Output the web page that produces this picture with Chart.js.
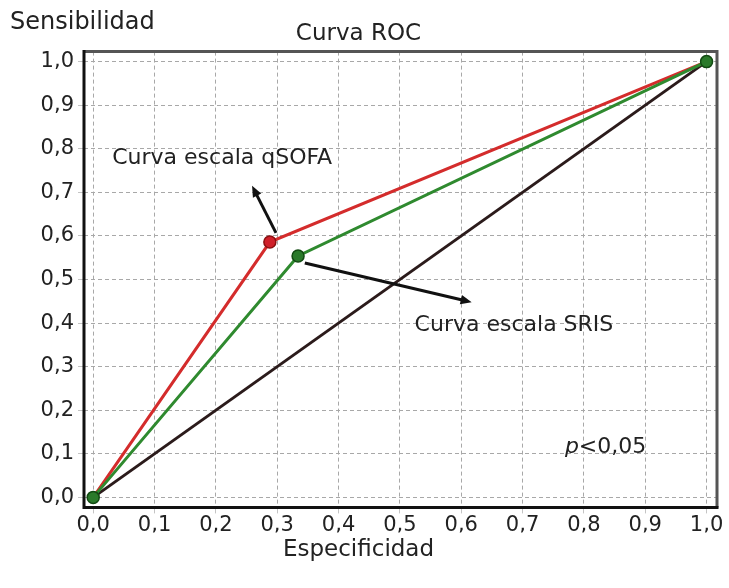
<!DOCTYPE html>
<html>
<head>
<meta charset="utf-8">
<script src="https://cdn.jsdelivr.net/npm/chart.js@4"></script>
<style>
  html, body { margin: 0; padding: 0; background: #fff; }
  #wrap { width: 729px; height: 588px; }
</style>
</head>
<body>
<div id="wrap"><canvas id="roc" width="729" height="588"></canvas></div>
<script>
// ROC data (especificidad, sensibilidad)
const qsofaX = [0.0, 0.288, 1.0];
const qsofaY = [0.0, 0.586, 1.0];
const srisX = [0.0, 0.334, 1.0];
const srisY = [0.0, 0.554, 1.0];
const refX = [0.0, 1.0];
const refY = [0.0, 1.0];

// tick values on both axes
const tickValues = [0.0, 0.1, 0.2, 0.3, 0.4, 0.5, 0.6, 0.7, 0.8, 0.9, 1.0];

// labels and arrows placed in data units
const notes = [
  { text: 'Curva escala qSOFA', x: 0.031, y: 0.779 },
  { text: 'Curva escala SRIS', x: 0.524, y: 0.395 }
];
const arrows = [
  { from: [0.298, 0.607], to: [0.259, 0.715] },
  { from: [0.345, 0.538], to: [0.617, 0.448] }
];
const pNote = { x: 0.769, y: 0.115 };

const FONT = 'DejaVu Sans';
const TEXT = '#222';

function toPoints(xs, ys) {
  return xs.map((x, i) => ({ x: x, y: ys[i] }));
}

function fmt(v) {
  return v.toFixed(1).replace('.', ',');
}

const extras = {
  id: 'extras',
  afterDraw(chart) {
    const c = chart.ctx;
    const a = chart.chartArea;
    const xs = chart.scales.x;
    const ys = chart.scales.y;
    c.save();
    // frame: top/right grey, left/bottom black
    c.lineWidth = 3;
    c.strokeStyle = '#555';
    c.beginPath();
    c.moveTo(a.left, a.top);
    c.lineTo(a.right, a.top);
    c.lineTo(a.right, a.bottom);
    c.stroke();
    c.strokeStyle = '#111';
    c.beginPath();
    c.moveTo(a.left, a.top - 1.5);
    c.lineTo(a.left, a.bottom);
    c.lineTo(a.right + 1.5, a.bottom);
    c.stroke();

    // axis label at top left
    c.fillStyle = TEXT;
    c.font = '24px "' + FONT + '"';
    c.textBaseline = 'middle';
    c.textAlign = 'left';
    c.fillText('Sensibilidad', 10, 23);

    // annotations
    c.font = '22px "' + FONT + '"';
    notes.forEach(n => {
      c.fillText(n.text, xs.getPixelForValue(n.x), ys.getPixelForValue(n.y));
    });
    const px = xs.getPixelForValue(pNote.x);
    const py = ys.getPixelForValue(pNote.y);
    c.font = 'italic 22px "' + FONT + '"';
    c.fillText('p', px, py);
    const pw = c.measureText('p').width;
    c.font = '22px "' + FONT + '"';
    c.fillText('<0,05', px + pw, py);

    // arrows
    c.strokeStyle = '#111';
    c.fillStyle = '#111';
    c.lineWidth = 3;
    arrows.forEach(ar => {
      const x1 = xs.getPixelForValue(ar.from[0]);
      const y1 = ys.getPixelForValue(ar.from[1]);
      const x2 = xs.getPixelForValue(ar.to[0]);
      const y2 = ys.getPixelForValue(ar.to[1]);
      const ang = Math.atan2(y2 - y1, x2 - x1);
      const head = 12;
      c.beginPath();
      c.moveTo(x1, y1);
      c.lineTo(x2 - Math.cos(ang) * head * 0.8, y2 - Math.sin(ang) * head * 0.8);
      c.stroke();
      c.beginPath();
      c.moveTo(x2, y2);
      c.lineTo(x2 - head * Math.cos(ang - 0.4), y2 - head * Math.sin(ang - 0.4));
      c.lineTo(x2 - head * Math.cos(ang + 0.4), y2 - head * Math.sin(ang + 0.4));
      c.closePath();
      c.fill();
    });
    c.restore();
  }
};

const grid = {
  color: '#a8a8a8',
  lineWidth: 1,
  tickLength: 6,
  tickColor: '#c4c4c4',
  drawOnChartArea: true
};

new Chart(document.getElementById('roc'), {
  type: 'scatter',
  data: {
    datasets: [
      {
        label: 'Referencia',
        data: toPoints(refX, refY),
        showLine: true,
        borderColor: '#2b1b1b',
        borderWidth: 3,
        pointRadius: 0,
        order: 3
      },
      {
        label: 'qSOFA',
        data: toPoints(qsofaX, qsofaY),
        showLine: true,
        borderColor: '#d42c2c',
        borderWidth: 3,
        pointRadius: [0, 6, 0],
        pointBackgroundColor: '#d0202a',
        pointBorderColor: '#8a1010',
        pointBorderWidth: 1.5,
        order: 2
      },
      {
        label: 'SRIS',
        data: toPoints(srisX, srisY),
        showLine: true,
        borderColor: '#2f8a2f',
        borderWidth: 3,
        pointRadius: 6,
        pointBackgroundColor: '#2a7a2a',
        pointBorderColor: '#124a12',
        pointBorderWidth: 1.5,
        order: 1
      }
    ]
  },
  options: {
    responsive: false,
    animation: false,
    layout: { padding: { left: 0, right: 12, top: 0, bottom: 0 } },
    plugins: {
      legend: { display: false },
      tooltip: { enabled: false },
      title: {
        display: true,
        text: 'Curva ROC',
        color: TEXT,
        font: { family: FONT, size: 23, weight: 'normal' },
        padding: { top: 20, bottom: 4 }
      },
      subtitle: {
        display: true,
        position: 'bottom',
        text: 'Especificidad',
        color: TEXT,
        font: { family: FONT, size: 23, weight: 'normal' },
        padding: { top: 4, bottom: 24 }
      }
    },
    scales: {
      x: {
        type: 'linear',
        min: -0.015,
        max: 1.017,
        afterBuildTicks: s => { s.ticks = tickValues.map(v => ({ value: v })); },
        afterFit: s => { s.height = 25; },
        grid: Object.assign({ borderDash: [4, 3] }, grid),
        border: { display: false, dash: [4, 3] },
        ticks: {
          color: TEXT,
          font: { family: FONT, size: 21 },
          padding: 0,
          maxRotation: 0,
          autoSkip: false,
          callback: v => fmt(v)
        }
      },
      y: {
        type: 'linear',
        min: -0.023,
        max: 1.023,
        afterBuildTicks: s => { s.ticks = tickValues.map(v => ({ value: v })); },
        afterFit: s => { s.width = 84; },
        grid: grid,
        border: { display: false, dash: [4, 3] },
        ticks: {
          color: TEXT,
          font: { family: FONT, size: 21 },
          padding: 4,
          autoSkip: false,
          callback: v => fmt(v)
        }
      }
    }
  },
  plugins: [extras]
});
</script>
</body>
</html>
